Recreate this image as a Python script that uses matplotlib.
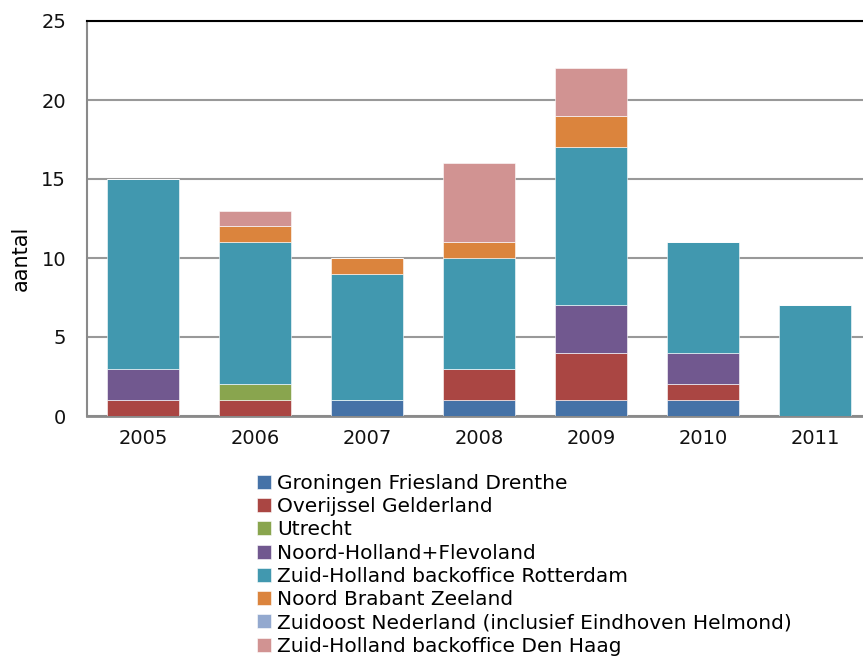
import numpy as np
import matplotlib
matplotlib.use("Agg")
import matplotlib.pyplot as plt

years = ["2005", "2006", "2007", "2008", "2009", "2010", "2011"]

regions = [
    "Groningen Friesland Drenthe",
    "Overijssel Gelderland",
    "Utrecht",
    "Noord-Holland+Flevoland",
    "Zuid-Holland backoffice Rotterdam",
    "Noord Brabant Zeeland",
    "Zuidoost Nederland (inclusief Eindhoven Helmond)",
    "Zuid-Holland backoffice Den Haag",
]

# values per region, one number per year
groningen = [0, 0, 1, 1, 1, 1, 0]
overijssel = [1, 1, 0, 2, 3, 1, 0]
utrecht = [0, 1, 0, 0, 0, 0, 0]
noord_holland = [2, 0, 0, 0, 3, 2, 0]
zh_rotterdam = [12, 9, 8, 7, 10, 7, 7]
brabant = [0, 1, 1, 1, 2, 0, 0]
zuidoost = [0, 0, 0, 0, 0, 0, 0]
zh_den_haag = [0, 1, 0, 5, 3, 0, 0]

series = [groningen, overijssel, utrecht, noord_holland,
          zh_rotterdam, brabant, zuidoost, zh_den_haag]

colors = ["#4572A7", "#AA4643", "#89A54E", "#71588F",
          "#4198AF", "#DB843D", "#93A9CF", "#D19392"]

plt.rcParams['font.family'] = ['DejaVu Sans']

fig = plt.figure(figsize=(8.63, 6.56), dpi=100)
W, H = 863, 656
ax = fig.add_axes([87 / W, (H - 416) / H, (863 - 87) / W, 395 / H])

x = np.arange(len(years))
bottom = np.zeros(len(years))
for name, vals, col in zip(regions, series, colors):
    vals = np.array(vals, dtype=float)
    ax.bar(x, vals, width=0.64, bottom=bottom, color=col, label=name,
           edgecolor="white", linewidth=0.4, zorder=3)
    bottom += vals

ax.set_xlim(-0.5, -0.5 + 776 / 112)
ax.set_ylim(0, 25)
ax.set_yticks([0, 5, 10, 15, 20, 25])
ax.set_xticks(x)
ax.set_xticklabels(years)
ax.tick_params(axis="both", length=0, labelsize=14, colors="#111111", pad=9)
ax.tick_params(axis="y", pad=15)
ax.yaxis.grid(True, color="#999999", linewidth=1.5, zorder=0)
ax.set_axisbelow(True)

ax.spines["top"].set_color("black")
ax.spines["top"].set_linewidth(1.5)
ax.spines["right"].set_visible(False)
ax.spines["left"].set_color("#8a8a8a")
ax.spines["left"].set_linewidth(1.5)
ax.spines["bottom"].set_color("#8a8a8a")
ax.spines["bottom"].set_linewidth(2)

ax.set_ylabel("aantal", fontsize=15)
ax.yaxis.set_label_coords(-0.072, 0.40)

fig.legend(loc="upper left", bbox_to_anchor=(257 / W, 1 - 474 / H),
           frameon=False, fontsize=14.5, handlelength=0.7, handleheight=0.7,
           handletextpad=0.3, labelspacing=0.21, borderpad=0, borderaxespad=0)

fig.savefig("out.png", dpi=100)
